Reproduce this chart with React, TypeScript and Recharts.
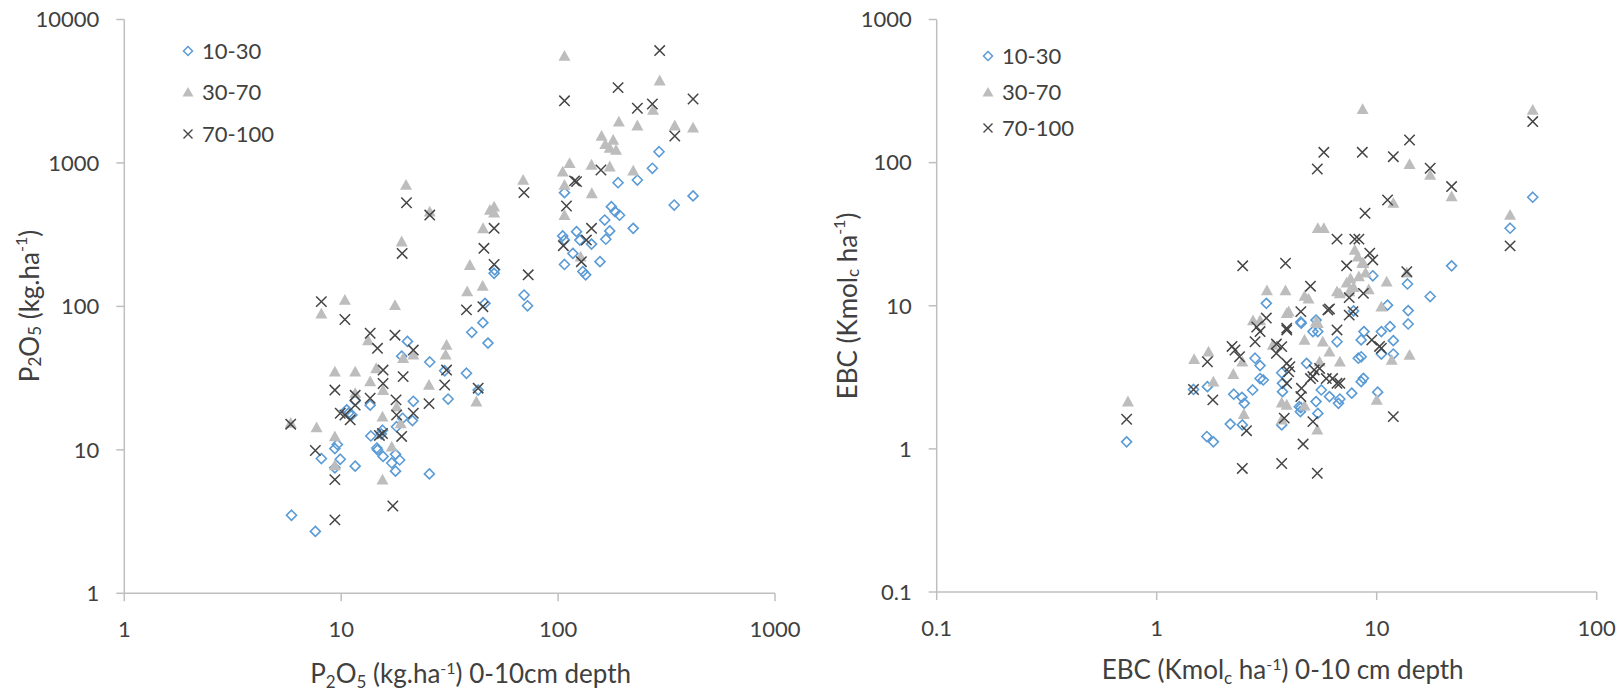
import React from 'react';
import { ScatterChart, Scatter, XAxis, YAxis, Legend } from 'recharts';

const FONT = 'Lato, "Open Sans", "DejaVu Sans", sans-serif';
const TEXT_COLOR = '#404040';
const AXIS_COLOR = '#BFBFBF';
const BLUE = '#5B9BD5';
const GREY = '#BDBDBD';
const DARK = '#454545';
const TITLE_SIZE = 26;

const depthLabels = ['10-30', '30-70', '70-100'];

const p2o5XTicks = [1, 10, 100, 1000];
const p2o5YTicks = [1, 10, 100, 1000, 10000];
const ebcXTicks = [0.1, 1, 10, 100];
const ebcYTicks = [0.1, 1, 10, 100, 1000];

// P2O5 (kg/ha): [0-10cm value, subsoil value]
const p2o5Depth10to30: [number, number][] = [
  [5.9, 3.5], [7.6, 2.7], [8.1, 8.7], [9.35, 10.2], [9.6, 10.9], [9.35, 7.5], [9.9, 8.6], [11.6, 7.7],
  [10.6, 19], [10.8, 18], [11.2, 17.5], [11.6, 22], [13.6, 20.5], [13.7, 12.5], [14.7, 10], [15.6, 9],
  [15.5, 13.7], [17.1, 8.1], [17.8, 7.1], [18.6, 8.5], [17.8, 9.3], [18, 14.5], [19.2, 16.6], [21.3, 16],
  [21.5, 21.8], [19, 45], [20.2, 57], [25.6, 41], [30, 35.6], [37.8, 34.2], [31.1, 22.6], [42.8, 26.1],
  [25.5, 6.8], [40, 66], [47.5, 55.5], [45, 77], [46, 105], [72.3, 101], [69.7, 120], [50.7, 170],
  [51, 180], [107, 196], [107, 290], [105, 310], [121.6, 332], [126, 290], [117, 234], [130, 175],
  [134, 166], [142.6, 272], [156, 205], [166, 294], [173, 336], [164, 400], [176, 496], [183, 458],
  [192, 432], [222, 350], [189, 728], [232, 760], [272, 918], [292, 1197], [343, 509], [419, 589],
  [107, 621], [15.3, 12.9], [14.6, 10.3],
];

const p2o5Depth30to70: [number, number][] = [
  [5.85, 15.4], [7.7, 14.3], [8.1, 89], [9.35, 35], [11.6, 35], [10.4, 111], [9.35, 12.4], [9.35, 7.8],
  [11.6, 24.8], [13.6, 30], [13.3, 58], [14.5, 37], [15.6, 26.1], [15.5, 17], [15.5, 6.2], [17.1, 10.5],
  [17.7, 102], [18, 20], [19.3, 43.5], [21.5, 46], [18.8, 15.3], [19.9, 702], [25.6, 457], [19, 283],
  [30.6, 53.8], [30.3, 46], [39.2, 194], [38.1, 127], [44.9, 139], [45.1, 350], [48.5, 470], [50.7, 496],
  [50.7, 450], [25.4, 28.3], [42, 21.7], [69, 760], [107, 5570], [294, 3750], [274, 2340], [190.6, 1941],
  [232, 1821], [345, 1821], [419, 1762], [158.6, 1541], [179.5, 1446], [173, 1273], [185, 1230], [165, 1350],
  [173, 943], [142.6, 970], [113, 995], [105, 869], [222, 883], [107, 702], [143, 614], [107, 433], [127, 222],
];

const p2o5Depth70to100: [number, number][] = [
  [5.85, 15.1], [7.6, 9.9], [8.1, 108], [9.35, 26.1], [9.35, 6.2], [9.35, 3.25], [10.4, 81], [9.9, 18],
  [10.4, 17.5], [11, 16.2], [11.6, 24], [11.6, 20.5], [13.6, 65], [14.7, 51], [13.6, 22.9], [15.6, 36],
  [15.6, 29], [15.5, 13], [15, 12.6], [17.3, 4.06], [17.7, 63], [17.9, 22.3], [18, 17.5], [19, 12.4],
  [19.3, 32.4], [21.5, 49.6], [21.5, 18], [20, 528], [25.6, 433], [19.1, 234], [37.8, 94.6], [45, 99.6],
  [45.5, 254], [30.6, 36], [30, 28.3], [42.8, 26.9], [25.4, 21], [294, 6070], [107, 2710], [189, 3350],
  [232, 2405], [272, 2576], [419, 2790], [345, 1541], [157.6, 893], [121.6, 741], [119, 750], [69.6, 621],
  [109.3, 501], [50.7, 350], [50.7, 196], [72.8, 166], [105.7, 265], [128, 205], [142.6, 350], [135, 290],
];

// EBC (Kmolc/ha): [0-10cm value, subsoil value]
const ebcDepth10to30: [number, number][] = [
  [0.73, 1.12], [1.47, 2.6], [1.7, 2.72], [1.69, 1.22], [1.81, 1.12], [2.24, 2.41], [2.44, 2.29], [2.5, 2.08],
  [2.16, 1.49], [2.45, 1.47], [2.73, 2.58], [3.05, 3.03], [2.95, 3.82], [2.8, 4.3], [3.15, 10.4], [3.7, 3.4],
  [4.8, 3.96], [4.54, 7.55], [5.13, 6.6], [5.4, 6.6], [3.73, 2.87], [3.73, 2.51], [4.45, 1.97], [4.5, 1.82],
  [3.7, 1.47], [5.4, 1.77], [5.3, 2.14], [5.6, 2.58], [6.1, 2.32], [6.8, 2.23], [7.7, 2.45], [6.7, 2.08],
  [8.7, 3.11], [8.5, 2.95], [8.25, 4.3], [8.5, 4.4], [8.5, 5.77], [8.75, 6.6], [10.5, 6.6], [11.5, 7.14],
  [11.9, 5.7], [10.5, 4.6], [11.9, 4.6], [13.9, 7.46], [13.9, 9.25], [10.1, 2.49], [9.6, 16.2], [13.8, 14.2],
  [11.2, 10.1], [17.5, 11.6], [21.9, 19], [40.4, 34.8], [51.2, 57.3], [4.52, 7.7], [5.3, 7.94], [6.6, 5.6],
  [7.85, 9.2], [4.52, 1.94], [2.95, 3.1],
];

const ebcDepth30to70: [number, number][] = [
  [0.74, 2.14], [1.48, 4.23], [1.72, 4.78], [1.81, 2.95], [2.23, 3.33], [2.45, 4.06], [2.49, 1.75], [2.74, 7.9],
  [2.95, 7.9], [3.9, 8.87], [3.37, 5.32], [5.4, 7.55], [4.7, 5.77], [5.69, 5.6], [6.1, 4.78], [5.5, 4.06],
  [6.8, 4.06], [3.9, 2.03], [4.7, 2.0], [3.7, 1.6], [5.37, 1.36], [10, 2.2], [14.1, 4.53], [11.7, 4.18],
  [8.63, 236], [51.2, 233], [40.4, 43.1], [14.1, 97.5], [17.5, 82], [21.9, 58], [11.9, 52.3], [5.4, 34.8],
  [5.75, 34.8], [7.95, 24.5], [8.7, 19.8], [13.7, 17], [11.1, 14.7], [3.17, 12.8], [3.85, 12.8], [4.7, 11.7],
  [4.9, 11.2], [6.6, 12.6], [7.3, 14.5], [5.3, 7.75], [10.5, 9.85], [3.98, 9.1], [6.8, 12.2], [7.5, 12.6],
  [7.85, 13.5], [8.3, 16], [8.6, 20], [3.7, 2.1], [8.2, 22], [8.9, 17], [9.2, 13], [7.6, 15.5],
];

const ebcDepth70to100: [number, number][] = [
  [0.73, 1.61], [1.47, 2.6], [1.7, 4.06], [1.8, 2.2], [2.27, 4.91], [2.56, 1.34], [2.45, 0.73], [3.7, 0.79],
  [5.37, 0.676], [4.63, 1.08], [5.13, 1.55], [2.8, 5.6], [2.95, 6.6], [3.15, 8.2], [3.9, 6.97], [3.7, 5.18],
  [3.5, 4.65], [4.52, 9.1], [6.0, 9.35], [7.5, 8.6], [6.6, 6.78], [4.03, 3.75], [3.98, 3.46], [5.5, 3.65],
  [5.13, 3.2], [5.9, 3.1], [6.6, 2.87], [4.55, 2.65], [3.8, 1.64], [11.9, 1.68], [10.5, 5.05], [9.5, 5.77],
  [6.8, 2.87], [51.2, 193.5], [40.4, 26.2], [14.1, 144], [11.9, 110], [17.5, 91.4], [21.9, 68], [5.75, 118],
  [5.37, 90.3], [8.6, 118], [11.2, 54.8], [8.85, 44.3], [6.6, 29.2], [7.95, 29.2], [8.3, 29.2], [9.3, 23.3],
  [9.6, 20.9], [7.3, 19], [2.46, 19], [3.85, 19.8], [13.7, 17.3], [5.0, 13.7], [8.7, 12.2], [3.9, 6.78],
  [6.1, 9.5], [7.8, 9.1], [2.2, 5.2], [2.38, 4.4], [3.5, 5.4], [3.9, 3.96], [3.9, 2.87], [4.52, 2.32],
  [5.0, 3.1], [5.2, 3.56], [6.3, 3.1], [10.3, 5.2], [7.5, 11.4], [2.85, 7.1],
];

const toPoints = (arr: [number, number][]) => arr.map(([x, y]) => ({ x, y }));

const ok = (v: any) => typeof v === 'number' && isFinite(v);

const DiamondShape = (p: any) => {
  const { cx, cy } = p;
  if (!ok(cx) || !ok(cy)) return <g />;
  const r = 5;
  return (
    <path
      d={`M${cx},${cy - r}L${cx + r},${cy}L${cx},${cy + r}L${cx - r},${cy}Z`}
      fill="none"
      stroke={BLUE}
      strokeWidth={1.6}
    />
  );
};

const TriangleShape = (p: any) => {
  const { cx, cy } = p;
  if (!ok(cx) || !ok(cy)) return <g />;
  return <path d={`M${cx},${cy - 6}L${cx + 6},${cy + 4.8}L${cx - 6},${cy + 4.8}Z`} fill={GREY} />;
};

const CrossShape = (p: any) => {
  const { cx, cy } = p;
  if (!ok(cx) || !ok(cy)) return <g />;
  const r = 5.2;
  return (
    <path
      d={`M${cx - r},${cy - r}L${cx + r},${cy + r}M${cx + r},${cy - r}L${cx - r},${cy + r}`}
      stroke={DARK}
      strokeWidth={1.5}
      fill="none"
    />
  );
};

const LegendMarker = ({ index }: { index: number }) => (
  <svg width={16} height={16} style={{ display: 'block' }}>
    {index === 0 && <path d="M8,3.5L12.5,8L8,12.5L3.5,8Z" fill="none" stroke={BLUE} strokeWidth={1.5} />}
    {index === 1 && <path d="M8,3L13.5,12.5L2.5,12.5Z" fill={GREY} />}
    {index === 2 && <path d="M3.5,3.5L12.5,12.5M12.5,3.5L3.5,12.5" stroke={DARK} strokeWidth={1.4} />}
  </svg>
);

const makeLegend = (rowHeight: number) => () => (
  <div style={{ fontFamily: FONT, fontSize: 22, color: TEXT_COLOR }}>
    {depthLabels.map((name, i) => (
      <div key={name} style={{ display: 'flex', alignItems: 'center', height: rowHeight }}>
        <LegendMarker index={i} />
        <span style={{ marginLeft: 6, lineHeight: 1 }}>{name}</span>
      </div>
    ))}
  </div>
);

const tickStyle = { fill: TEXT_COLOR, fontSize: 22, fontFamily: FONT };
const lineStyle = { stroke: AXIS_COLOR, strokeWidth: 1.5 };
const fmt = (v: number) => String(v);

const SUB = -5;
const SUP = 9;

const P2O5Text = () => (
  <>
    P<tspan baselineShift={SUB} fontSize={17}>2</tspan>O<tspan baselineShift={SUB} fontSize={17}>5</tspan> (kg.ha
    <tspan baselineShift={SUP} fontSize={16}>-1</tspan>)
  </>
);

const EBCText = () => (
  <>
    EBC (Kmol<tspan baselineShift={SUB} fontSize={17}>c</tspan> ha<tspan baselineShift={SUP} fontSize={16}>-1</tspan>)
  </>
);

const p2o5XTitle = (props: any) => {
  const vb = props.viewBox || {};
  const x = vb.x + vb.width / 2 + 21;
  const y = vb.y + 90;
  return (
    <text x={x} y={y} textAnchor="middle" fill={TEXT_COLOR} fontSize={TITLE_SIZE} fontFamily={FONT}>
      <P2O5Text /> 0-10cm depth
    </text>
  );
};

const p2o5YTitle = (props: any) => {
  const vb = props.viewBox || {};
  const x = vb.x + 29;
  const y = 306;
  return (
    <text x={x} y={y} textAnchor="middle" dominantBaseline="central" transform={`rotate(-90 ${x} ${y})`} fill={TEXT_COLOR} fontSize={TITLE_SIZE} fontFamily={FONT}>
      <P2O5Text />
    </text>
  );
};

const ebcXTitle = (props: any) => {
  const vb = props.viewBox || {};
  const x = vb.x + vb.width / 2 + 16;
  const y = vb.y + 87;
  return (
    <text x={x} y={y} textAnchor="middle" fill={TEXT_COLOR} fontSize={TITLE_SIZE} fontFamily={FONT}>
      <EBCText /> 0-10 cm depth
    </text>
  );
};

const ebcYTitle = (props: any) => {
  const vb = props.viewBox || {};
  const x = vb.x + 35;
  const y = 306;
  return (
    <text x={x} y={y} textAnchor="middle" dominantBaseline="central" transform={`rotate(-90 ${x} ${y})`} fill={TEXT_COLOR} fontSize={TITLE_SIZE} fontFamily={FONT}>
      <EBCText />
    </text>
  );
};

export default function App() {
  return (
    <div style={{ position: 'fixed', left: 0, top: 0, width: 1621, height: 695, background: '#fff', overflow: 'hidden' }}>
      <div style={{ position: 'absolute', left: 0, top: 0 }}>
        <ScatterChart width={810} height={695} margin={{ top: 19.5, right: 35, bottom: 21.7, left: 0 }}>
          <XAxis
            type="number"
            dataKey="x"
            scale="log"
            domain={[1, 1000]}
            ticks={p2o5XTicks}
            allowDataOverflow
            interval={0}
            height={80}
            tickSize={8}
            tickMargin={20}
            axisLine={lineStyle}
            tickLine={lineStyle}
            tick={tickStyle}
            tickFormatter={fmt}
            label={p2o5XTitle}
          />
          <YAxis
            type="number"
            dataKey="y"
            scale="log"
            domain={[1, 10000]}
            ticks={p2o5YTicks}
            allowDataOverflow
            interval={0}
            width={124.3}
            tickSize={8}
            tickMargin={17}
            axisLine={lineStyle}
            tickLine={lineStyle}
            tick={tickStyle}
            tickFormatter={fmt}
            label={p2o5YTitle}
          />
          <Legend
            layout="vertical"
            align="center"
            verticalAlign="middle"
            content={makeLegend(41.5)}
            wrapperStyle={{ top: 30, left: 180, width: 'auto', height: 'auto' }}
          />
          <Scatter name={depthLabels[0]} data={toPoints(p2o5Depth10to30)} shape={DiamondShape} isAnimationActive={false} />
          <Scatter name={depthLabels[1]} data={toPoints(p2o5Depth30to70)} shape={TriangleShape} isAnimationActive={false} />
          <Scatter name={depthLabels[2]} data={toPoints(p2o5Depth70to100)} shape={CrossShape} isAnimationActive={false} />
        </ScatterChart>
      </div>
      <div style={{ position: 'absolute', left: 812, top: 0 }}>
        <ScatterChart width={809} height={695} margin={{ top: 19.5, right: 24.3, bottom: 23, left: 0 }}>
          <XAxis
            type="number"
            dataKey="x"
            scale="log"
            domain={[0.1, 100]}
            ticks={ebcXTicks}
            allowDataOverflow
            interval={0}
            height={80}
            tickSize={8}
            tickMargin={20}
            axisLine={lineStyle}
            tickLine={lineStyle}
            tick={tickStyle}
            tickFormatter={fmt}
            label={ebcXTitle}
          />
          <YAxis
            type="number"
            dataKey="y"
            scale="log"
            domain={[0.1, 1000]}
            ticks={ebcYTicks}
            allowDataOverflow
            interval={0}
            width={124.7}
            tickSize={8}
            tickMargin={17}
            axisLine={lineStyle}
            tickLine={lineStyle}
            tick={tickStyle}
            tickFormatter={fmt}
            label={ebcYTitle}
          />
          <Legend
            layout="vertical"
            align="center"
            verticalAlign="middle"
            content={makeLegend(36.2)}
            wrapperStyle={{ top: 38, left: 168, width: 'auto', height: 'auto' }}
          />
          <Scatter name={depthLabels[0]} data={toPoints(ebcDepth10to30)} shape={DiamondShape} isAnimationActive={false} />
          <Scatter name={depthLabels[1]} data={toPoints(ebcDepth30to70)} shape={TriangleShape} isAnimationActive={false} />
          <Scatter name={depthLabels[2]} data={toPoints(ebcDepth70to100)} shape={CrossShape} isAnimationActive={false} />
        </ScatterChart>
      </div>
    </div>
  );
}
